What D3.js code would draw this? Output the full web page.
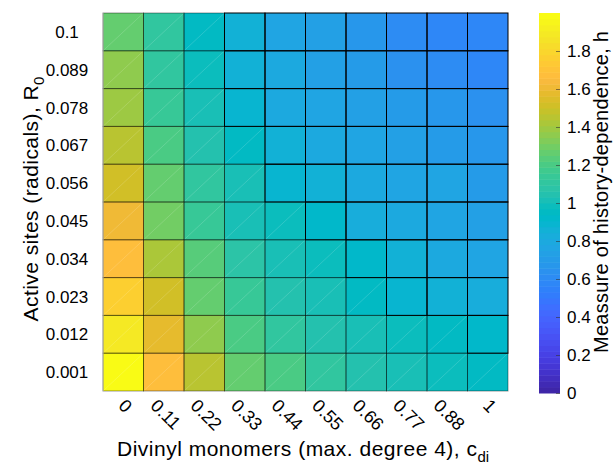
<!DOCTYPE html>
<html>
<head>
<meta charset="utf-8">
<script src="https://cdn.jsdelivr.net/npm/d3@7"></script>
<style>
  html, body { margin: 0; padding: 0; background: #fff; }
  svg { display: block; font-family: "Liberation Sans", Arial, Helvetica, sans-serif; }
</style>
</head>
<body>
<svg id="chart" width="613" height="468"></svg>
<script>
// Divinyl monomer fraction (columns) and active-site fraction (rows)
const cdiLabels = ["0", "0.11", "0.22", "0.33", "0.44", "0.55", "0.66", "0.77", "0.88", "1"];
const r0Labels = ["0.001", "0.012", "0.023", "0.034", "0.045", "0.056", "0.067", "0.078", "0.089", "0.1"];

// History-dependence h for each R0 row, ordered by c_di
const h_R0_0001 = [1.98, 1.66, 1.45, 1.27, 1.20, 1.11, 1.06, 1.00, 0.98, 0.95];
const h_R0_0012 = [1.88, 1.58, 1.35, 1.20, 1.10, 1.06, 1.00, 0.98, 0.95, 0.91];
const h_R0_0023 = [1.76, 1.50, 1.27, 1.15, 1.05, 1.00, 0.96, 0.90, 0.86, 0.84];
const h_R0_0034 = [1.66, 1.41, 1.22, 1.09, 1.01, 0.97, 0.91, 0.85, 0.81, 0.78];
const h_R0_0045 = [1.60, 1.31, 1.13, 1.02, 0.97, 0.91, 0.84, 0.81, 0.78, 0.74];
const h_R0_0056 = [1.52, 1.25, 1.10, 1.00, 0.88, 0.85, 0.81, 0.78, 0.75, 0.70];
const h_R0_0067 = [1.46, 1.19, 1.05, 0.96, 0.85, 0.80, 0.77, 0.74, 0.71, 0.67];
const h_R0_0078 = [1.38, 1.14, 1.00, 0.88, 0.80, 0.77, 0.73, 0.69, 0.66, 0.63];
const h_R0_0089 = [1.35, 1.12, 0.98, 0.86, 0.79, 0.74, 0.69, 0.64, 0.61, 0.57];
const h_R0_0100 = [1.27, 1.10, 0.95, 0.85, 0.78, 0.72, 0.68, 0.62, 0.58, 0.57];

// Colour range and colourbar ticks
const hDomain = [0, 2];
const cbTicks = [0, 0.2, 0.4, 0.6, 0.8, 1, 1.2, 1.4, 1.6, 1.8];

// Parula colormap (64 entries)
const parula = [
  [0.2422,0.1504,0.6603],[0.2504,0.1650,0.7076],[0.2578,0.1818,0.7511],[0.2647,0.1978,0.7952],
  [0.2706,0.2147,0.8364],[0.2751,0.2342,0.8710],[0.2783,0.2559,0.8991],[0.2803,0.2782,0.9221],
  [0.2813,0.3006,0.9414],[0.2810,0.3228,0.9579],[0.2795,0.3447,0.9717],[0.2760,0.3667,0.9829],
  [0.2699,0.3892,0.9906],[0.2602,0.4123,0.9952],[0.2440,0.4358,0.9988],[0.2206,0.4603,0.9973],
  [0.1963,0.4847,0.9892],[0.1834,0.5074,0.9798],[0.1786,0.5289,0.9682],[0.1764,0.5499,0.9520],
  [0.1687,0.5703,0.9359],[0.1540,0.5902,0.9218],[0.1460,0.6091,0.9079],[0.1380,0.6276,0.8973],
  [0.1248,0.6459,0.8883],[0.1113,0.6635,0.8763],[0.0952,0.6798,0.8598],[0.0689,0.6948,0.8394],
  [0.0297,0.7082,0.8163],[0.0036,0.7203,0.7917],[0.0067,0.7312,0.7660],[0.0433,0.7411,0.7394],
  [0.0964,0.7500,0.7120],[0.1408,0.7584,0.6842],[0.1717,0.7670,0.6554],[0.1938,0.7758,0.6251],
  [0.2161,0.7843,0.5923],[0.2470,0.7918,0.5567],[0.2906,0.7973,0.5188],[0.3406,0.8008,0.4789],
  [0.3909,0.8029,0.4354],[0.4456,0.8024,0.3909],[0.5044,0.7993,0.3480],[0.5616,0.7942,0.3045],
  [0.6174,0.7876,0.2612],[0.6720,0.7793,0.2227],[0.7242,0.7698,0.1910],[0.7738,0.7598,0.1646],
  [0.8203,0.7498,0.1535],[0.8634,0.7406,0.1596],[0.9035,0.7330,0.1774],[0.9393,0.7288,0.2100],
  [0.9728,0.7298,0.2394],[0.9956,0.7434,0.2371],[0.9970,0.7659,0.2199],[0.9952,0.7893,0.2028],
  [0.9892,0.8136,0.1885],[0.9786,0.8386,0.1766],[0.9676,0.8639,0.1643],[0.9610,0.8890,0.1537],
  [0.9597,0.9135,0.1423],[0.9628,0.9373,0.1265],[0.9691,0.9606,0.1064],[0.9769,0.9839,0.0805]
].map(c => d3.rgb(c[0] * 255, c[1] * 255, c[2] * 255).formatHex());

const hRows = [h_R0_0001, h_R0_0012, h_R0_0023, h_R0_0034, h_R0_0045,
               h_R0_0056, h_R0_0067, h_R0_0078, h_R0_0089, h_R0_0100];
const cells = [];
r0Labels.forEach((r, i) => cdiLabels.forEach((c, j) => cells.push({ r, c, h: hRows[i][j] })));

const svg = d3.select("#chart");
const plot = { left: 103, right: 508, top: 13, bottom: 391 };

const x = d3.scaleBand().domain(cdiLabels).range([plot.left, plot.right]);
const y = d3.scaleBand().domain(r0Labels.slice().reverse()).range([plot.top, plot.bottom]);
const color = d3.scaleQuantize().domain(hDomain).range(parula);

// Heatmap cells
const g = svg.append("g");
g.selectAll("rect.cell").data(cells).join("rect")
  .attr("class", "cell")
  .attr("x", d => x(d.c)).attr("y", d => y(d.r))
  .attr("width", x.bandwidth()).attr("height", y.bandwidth())
  .attr("fill", d => color(d.h))
  .attr("shape-rendering", "crispEdges");

// High-h cells have soft seams and a faint diagonal; the rest carry crisp black edges
const soft = d => d.h >= 0.93;
g.selectAll("line.diag").data(cells.filter(soft)).join("line")
  .attr("class", "diag")
  .attr("x1", d => x(d.c)).attr("y1", d => y(d.r) + y.bandwidth())
  .attr("x2", d => x(d.c) + x.bandwidth()).attr("y2", d => y(d.r))
  .attr("stroke", "#fff").attr("stroke-opacity", 0.3).attr("stroke-width", 0.5);

g.selectAll("rect.softedge").data(cells.filter(soft)).join("rect")
  .attr("class", "softedge")
  .attr("x", d => x(d.c)).attr("y", d => y(d.r))
  .attr("width", x.bandwidth()).attr("height", y.bandwidth())
  .attr("fill", "none").attr("stroke", "#000").attr("stroke-opacity", 0.4).attr("stroke-width", 1);

g.selectAll("rect.hardedge").data(cells.filter(d => !soft(d))).join("rect")
  .attr("class", "hardedge")
  .attr("x", d => x(d.c)).attr("y", d => y(d.r))
  .attr("width", x.bandwidth()).attr("height", y.bandwidth())
  .attr("fill", "none").attr("stroke", "#000").attr("stroke-width", 1);

// Faint axis line on the left
svg.append("line")
  .attr("x1", plot.left).attr("x2", plot.left)
  .attr("y1", plot.top).attr("y2", plot.bottom)
  .attr("stroke", "#b8b8b8").attr("stroke-width", 1);

// Y tick labels
svg.append("g").selectAll("text").data(r0Labels).join("text")
  .attr("x", 67).attr("y", d => y(d) + y.bandwidth() / 2)
  .attr("dy", "0.36em")
  .attr("text-anchor", "middle")
  .attr("font-size", 17).attr("fill", "#000")
  .text(d => d);

// X tick labels, rotated 45 degrees
const xt = svg.append("g").selectAll("text").data(cdiLabels).join("text")
  .attr("text-anchor", "middle")
  .attr("dominant-baseline", "central")
  .attr("font-size", 18).attr("fill", "#000")
  .text(d => d);
xt.attr("transform", function (d) {
  const L = this.getComputedTextLength();
  const cx = x(d) + x.bandwidth() / 2 + 2;
  const cy = 398 + (L + 13) * Math.SQRT1_2 / 2;
  return `translate(${cx},${cy}) rotate(45)`;
});

// Axis titles
const xTitle = svg.append("text")
  .attr("x", 117).attr("y", 456)
  .attr("font-size", 21).attr("fill", "#000");
xTitle.append("tspan")
  .attr("textLength", 360).attr("lengthAdjust", "spacing")
  .text("Divinyl monomers (max. degree 4), c");
xTitle.append("tspan").attr("font-size", 15).attr("dy", 6).text("di");

const yTitle = svg.append("text")
  .attr("transform", "translate(38,199) rotate(-90)")
  .attr("text-anchor", "middle")
  .attr("font-size", 21).attr("fill", "#000");
yTitle.append("tspan")
  .attr("textLength", 236).attr("lengthAdjust", "spacing")
  .text("Active sites (radicals), R");
yTitle.append("tspan").attr("font-size", 15).attr("dy", 6).text("0");

// Colourbar
const cb = { x: 539, w: 21, top: 13, bottom: 393 };
const cbScale = d3.scaleLinear().domain(hDomain).range([cb.bottom, cb.top]);
const steps = d3.range(parula.length);
const stepH = (hDomain[1] - hDomain[0]) / parula.length;
svg.append("g").selectAll("rect").data(steps).join("rect")
  .attr("x", cb.x).attr("width", cb.w)
  .attr("y", i => cbScale(hDomain[0] + (i + 1) * stepH))
  .attr("height", i => cbScale(hDomain[0] + i * stepH) - cbScale(hDomain[0] + (i + 1) * stepH) + 0.5)
  .attr("fill", i => parula[i]);

const cbAxis = d3.axisRight(cbScale).tickValues(cbTicks)
  .tickFormat(d3.format("~g")).tickSize(-4).tickPadding(7);
const cbG = svg.append("g").attr("transform", `translate(${cb.x + cb.w},0)`).call(cbAxis);
cbG.select(".domain").remove();
cbG.selectAll(".tick line").attr("stroke", "#333").attr("stroke-opacity", 0.6);
cbG.selectAll(".tick text").attr("font-size", 17).attr("fill", "#000")
  .attr("font-family", "Liberation Sans, Arial, Helvetica, sans-serif");

svg.append("text")
  .attr("transform", "translate(608,192) rotate(-90)")
  .attr("text-anchor", "middle")
  .attr("font-size", 20).attr("fill", "#000")
  .attr("textLength", 322).attr("lengthAdjust", "spacing")
  .text("Meassure of history-dependence, h");
</script>
</body>
</html>
